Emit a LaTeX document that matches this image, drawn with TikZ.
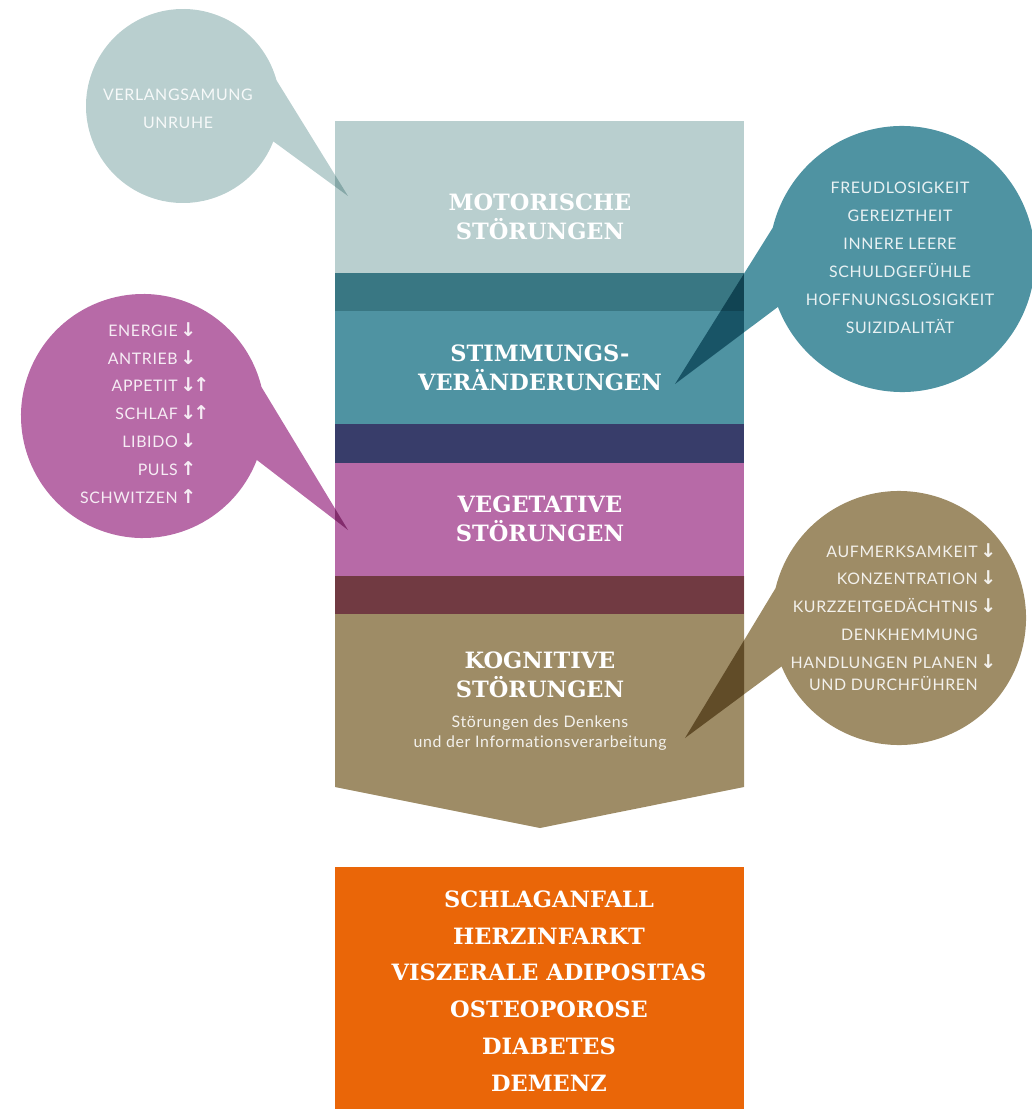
\documentclass[tikz,border=0pt]{standalone}
\usepackage{fontspec}
\setmainfont{Lato}[LetterSpace=4, Ligatures=NoCommon]
\newfontfamily\headfont{DejaVu Serif}
\newfontfamily\arrowfont{DejaVu Sans}
\usetikzlibrary{positioning}

\definecolor{motorcol}{HTML}{B9CFCF}
\definecolor{stimcol}{HTML}{4F93A2}
\definecolor{vegcol}{HTML}{B76AA7}
\definecolor{kogcol}{HTML}{9E8C66}
\definecolor{folgecol}{HTML}{EA6608}

% Pfeile hinter dem Text
\newcommand\pfeilfont{\arrowfont\bfseries\fontsize{13.5}{13.5}\selectfont}
\newcommand\runter{\rlap{\,{\pfeilfont ↓}}}
\newcommand\hoch{\rlap{\,{\pfeilfont ↑}}}
\newcommand\runterhoch{\rlap{\,{\pfeilfont ↓\kern-2pt↑}}}

\begin{document}
\begin{tikzpicture}[
        x=0.025cm, y=-0.025cm,
        % Textstile
        head/.style={text=white, font=\headfont\bfseries\fontsize{16}{20.5}\selectfont,
            align=center, inner sep=0pt},
        bubtext/.style={text=white, text opacity=0.88,
            font=\fontsize{11.3}{19.85}\selectfont, inner sep=0pt},
        subtext/.style={text=white, text opacity=0.88,
            font=\fontsize{11.3}{14.2}\selectfont, align=center, inner sep=0pt},
        bubble/.style={blend mode=multiply},
    ]
    \useasboundingbox (0,0) rectangle (1031,1109);

    % Saeule aus ueberlappenden Feldern
    \begin{scope}[blend mode=multiply]
        \fill[motorcol] (335,121) rectangle (744,311);
        \fill[stimcol]  (335,273) rectangle (744,463);
        \fill[vegcol]   (335,424) rectangle (744,614);
        \fill[kogcol]   (335,576) -- (744,576) -- (744,787) -- (540,828) -- (335,787) -- cycle;
    \end{scope}

    % Folgeerkrankungen
    \fill[folgecol] (335,867) rectangle (744,1109);

    % Sprechblasen: Kreis mit Spitze in einem Pfad
    \coordinate (motorM) at (183,106);
    \coordinate (stimM)  at (902,259);
    \coordinate (vegM)   at (143,416);
    \coordinate (kogM)   at (899,618);

    \fill[bubble, motorcol] ([shift={(motorM)}]-15.3:97) -- (348,196)
        -- ([shift={(motorM)}]21.4:97) arc[start angle=21.4, end angle=344.7, radius=97] -- cycle;
    \fill[bubble, stimcol] ([shift={(stimM)}]193.6:133) -- (675,384)
        -- ([shift={(stimM)}]158.9:133) arc[start angle=158.9, end angle=-166.4, radius=133] -- cycle;
    \fill[bubble, vegcol] ([shift={(vegM)}]-13.7:122) -- (348,530)
        -- ([shift={(vegM)}]21.1:122) arc[start angle=21.1, end angle=346.3, radius=122] -- cycle;
    \fill[bubble, kogcol] ([shift={(kogM)}]193.6:127) -- (685,738)
        -- ([shift={(kogM)}]157.6:127) arc[start angle=157.6, end angle=-166.4, radius=127] -- cycle;

    % Ueberschriften
    \node[head] (motor) at (540,217) {MOTORISCHE\\STÖRUNGEN};
    \node[head] (stim) at (540,368) {STIMMUNGS-\\VERÄNDERUNGEN};
    \node[head] (veg) at (540,519) {VEGETATIVE\\STÖRUNGEN};
    \node[head] (kog) at (540,675) {KOGNITIVE\\STÖRUNGEN};
    \node[subtext, below=12pt of kog] (kogsub) {Störungen des Denkens\\und der Informationsverarbeitung};
    \node[head, font=\headfont\bfseries\fontsize{16}{26.2}\selectfont] (folgen) at (549,991)
        {SCHLAGANFALL\\HERZINFARKT\\VISZERALE ADIPOSITAS\\OSTEOPOROSE\\DIABETES\\DEMENZ};

    % Texte in den Blasen
    \node[bubtext, align=center] (motortxt) at (178,109) {VERLANGSAMUNG\\UNRUHE};
    \node[bubtext, align=center] (stimtxt) at (900,258)
        {FREUDLOSIGKEIT\\GEREIZTHEIT\\INNERE LEERE\\SCHULDGEFÜHLE\\HOFFNUNGSLOSIGKEIT\\SUIZIDALITÄT};
    \node[bubtext, align=right, anchor=east] (vegtxt) at (178,413)
        {ENERGIE\runter\\ANTRIEB\runter\\APPETIT\runterhoch\\SCHLAF\runterhoch\\LIBIDO\runter\\PULS\hoch\\SCHWITZEN\hoch};
    \node[bubtext, align=right, anchor=east] (kogtxt) at (978,617)
        {AUFMERKSAMKEIT\runter\\KONZENTRATION\runter\\KURZZEITGEDÄCHTNIS\runter\\DENKHEMMUNG\\HANDLUNGEN PLANEN\runter\\[-4.2pt]UND DURCHFÜHREN};
    \end{tikzpicture}
\end{document}
